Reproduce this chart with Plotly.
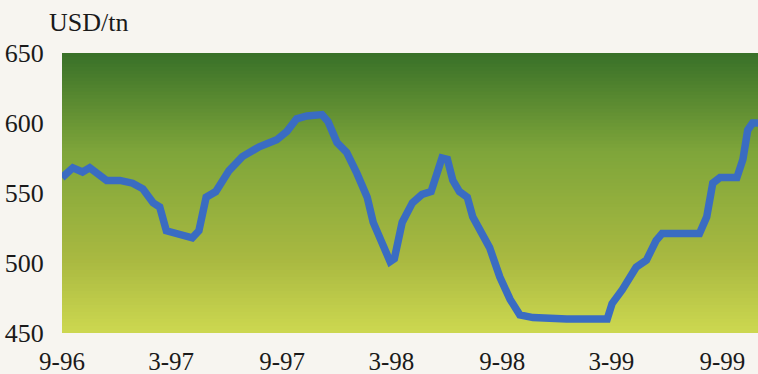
import plotly.graph_objects as go

dates = [
    "1996-09-01", "1996-09-19", "1996-10-05", "1996-10-17", "1996-11-14", "1996-12-06",
    "1996-12-27", "1997-01-13", "1997-01-30", "1997-02-10", "1997-02-21", "1997-03-14",
    "1997-04-05", "1997-04-16", "1997-04-28", "1997-05-14", "1997-06-05", "1997-06-27",
    "1997-07-25", "1997-08-23", "1997-09-09", "1997-09-25", "1997-10-12", "1997-11-06",
    "1997-11-16", "1997-12-01", "1997-12-17", "1998-01-03", "1998-01-20", "1998-01-30",
    "1998-02-11", "1998-02-27", "1998-03-06", "1998-03-19", "1998-04-05", "1998-04-21",
    "1998-05-06", "1998-05-14", "1998-05-24", "1998-06-02", "1998-06-11", "1998-06-22",
    "1998-07-05", "1998-07-14", "1998-07-25", "1998-08-11", "1998-08-28", "1998-09-14",
    "1998-09-30", "1998-10-22", "1998-12-17", "1999-02-22", "1999-03-02", "1999-03-19",
    "1999-04-11", "1999-04-28", "1999-05-14", "1999-05-24", "1999-07-25", "1999-08-06",
    "1999-08-16", "1999-08-28", "1999-09-25", "1999-10-05", "1999-10-13", "1999-10-21",
    "1999-11-10",
]
prices = [
    561, 568, 565, 568, 559, 559,
    557, 553, 543, 540, 523, 520,
    518, 523, 547, 551, 566, 576,
    583, 588, 594, 603, 605, 606,
    601, 586, 579, 564, 547, 529,
    516, 501, 503, 529, 543, 549,
    551, 561, 575, 574, 559, 551,
    547, 533, 525, 511, 490, 474,
    463, 461, 460, 460, 471, 481,
    497, 502, 516, 521, 521, 533,
    557, 561, 561, 574, 595, 600,
    600,
]
tick_vals = ["1996-09-01", "1997-03-01", "1997-09-01", "1998-03-01",
             "1998-09-01", "1999-03-01", "1999-09-01"]
tick_text = ["9-96", "3-97", "9-97", "3-98", "9-98", "3-99", "9-99"]
y_ticks = [450, 500, 550, 600, 650]

# gradient colour stops (fraction from bottom, rgb)
stops = [(0.0, (205, 216, 80)), (0.26, (169, 185, 65)),
         (0.65, (126, 165, 58)), (1.0, (56, 112, 40))]


def color_at(t):
    for (t0, c0), (t1, c1) in zip(stops[:-1], stops[1:]):
        if t0 <= t <= t1:
            f = (t - t0) / (t1 - t0)
            return "rgb(%d,%d,%d)" % tuple(round(a + (b - a) * f) for a, b in zip(c0, c1))
    return "rgb(%d,%d,%d)" % stops[-1][1]


n = 80
shapes = []
for i in range(n):
    y0 = i / n
    y1 = (i + 1) / n
    shapes.append(dict(type="rect", xref="paper", yref="paper", x0=0, x1=1,
                       y0=y0, y1=min(1.0, y1 + 0.002), fillcolor=color_at((y0 + y1) / 2),
                       line=dict(width=0), layer="below"))

fig = go.Figure()
fig.add_trace(go.Scatter(x=dates, y=prices, mode="lines",
                         line=dict(color="#3a6cc2", width=7.5, shape="linear"),
                         hoverinfo="x+y", showlegend=False))

font = dict(family="Liberation Serif, Times New Roman, serif", size=26, color="#1a1a1a")
xfont = dict(family="Liberation Serif, Times New Roman, serif", size=25, color="#1a1a1a")
fig.update_layout(
    width=758, height=374,
    margin=dict(l=62, r=0, t=53, b=41),
    paper_bgcolor="#f7f5f0",
    plot_bgcolor="rgba(0,0,0,0)",
    font=font,
    shapes=shapes,
    xaxis=dict(range=["1996-09-01", "1999-10-30"], tickvals=tick_vals, ticktext=tick_text,
               showgrid=False, zeroline=False, showline=False, automargin=False,
               ticks="outside", ticklen=6, tickcolor="rgba(0,0,0,0)",
               tickfont=xfont),
    yaxis=dict(range=[450, 650], tickvals=y_ticks, showgrid=False, zeroline=False,
               showline=False, automargin=False, ticks="outside", ticklen=12,
               tickcolor="rgba(0,0,0,0)", tickfont=font),
    annotations=[dict(text="USD/tn", xref="paper", yref="paper", x=-15 / 696, y=1.0,
                      xanchor="left", yanchor="bottom", yshift=14, showarrow=False,
                      font=font)],
)

fig.write_html("out.html", config={"displayModeBar": False},
               post_script="document.body.style.margin='0';"
                           "document.body.style.background='#f7f5f0';")
